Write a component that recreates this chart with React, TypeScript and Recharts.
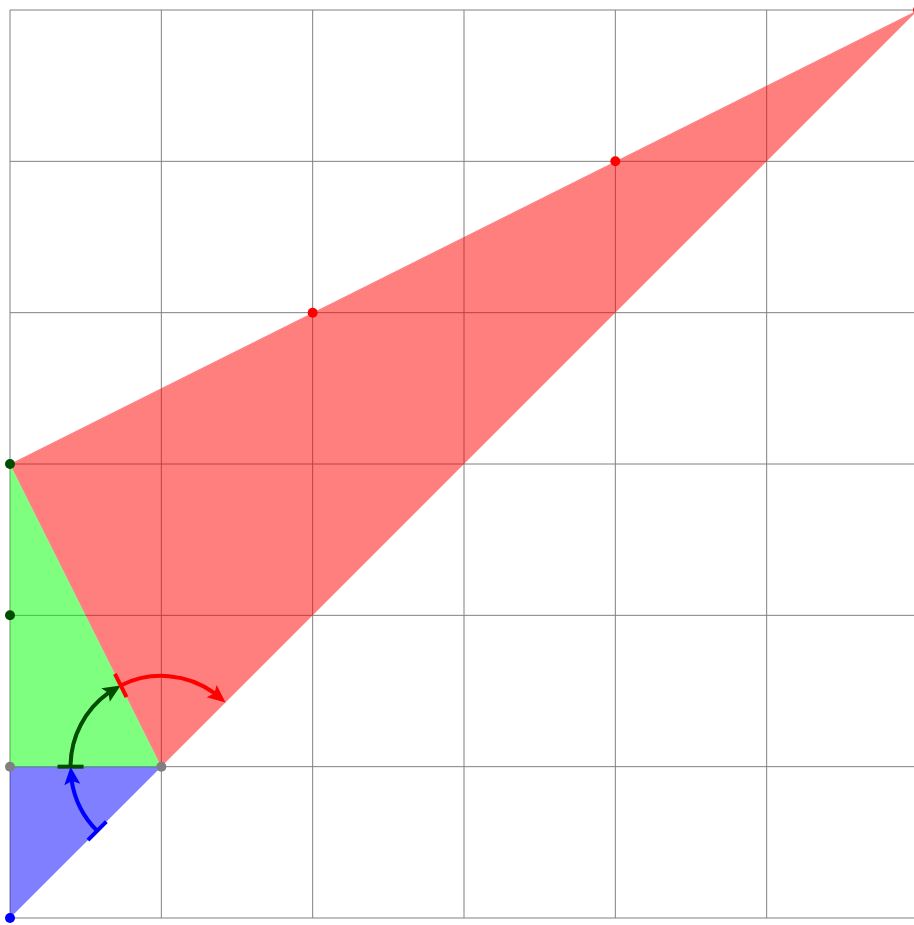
import { ComposedChart, XAxis, YAxis, CartesianGrid, Area, Scatter, ReferenceDot } from "recharts";

const TICKS = [0, 1, 2, 3, 4, 5, 6];

// triangles as range areas: [lower, upper] at each x
const BLUE_TRI = [
  { x: 0, range: [0, 1] },
  { x: 1, range: [1, 1] },
];
const GREEN_TRI = [
  { x: 0, range: [1, 3] },
  { x: 1, range: [1, 1] },
];
const RED_TRI = [
  { x: 0, range: [3, 3] },
  { x: 1, range: [1, 3.5] },
  { x: 6, range: [6, 6] },
];

const BLUE_PTS = [{ x: 0, y: 0 }];
const GRAY_PTS = [
  { x: 0, y: 1 },
  { x: 1, y: 1 },
];
const GREEN_PTS = [
  { x: 0, y: 2 },
  { x: 0, y: 3 },
];
const RED_PTS = [
  { x: 2, y: 4 },
  { x: 4, y: 5 },
  { x: 6, y: 6 },
];

// angle arcs at vertex (1,1): from direction -> to direction
const VERTEX = [{ x: 1, y: 1 }];
const ARCS = [
  { from: [0, 0], to: [0, 1], color: "#0000ff" },
  { from: [0, 1], to: [0, 3], color: "#004d00" },
  { from: [0, 3], to: [6, 6], color: "#ff0000" },
];
const ARC_RADIUS = 0.6;

const PLOT = 908;
const UNIT = PLOT / 6;

function angleTo(p: number[]) {
  return Math.atan2(p[1] - VERTEX[0].y, p[0] - VERTEX[0].x);
}

function makeArcShape(arc: (typeof ARCS)[number]) {
  return (props: any) => {
    const { cx, cy } = props;
    const r = ARC_RADIUS * UNIT;
    const a0 = angleTo(arc.from);
    const a1 = angleTo(arc.to);
    const head = 18;
    const pt = (a: number, rr = r) => [cx + rr * Math.cos(a), cy - rr * Math.sin(a)];
    const [sx, sy] = pt(a0);
    const [ex, ey] = pt(a1 + (head - 4) / r); // stop arc under the arrowhead
    const [tx, ty] = pt(a1);
    const [bx, by] = pt(a1 + head / r);
    const dx = tx - bx;
    const dy = ty - by;
    const len = Math.hypot(dx, dy);
    const nx = -dy / len;
    const ny = dx / len;
    const w = 8;
    const [t1x, t1y] = pt(a0, r - 13);
    const [t2x, t2y] = pt(a0, r + 13);
    return (
      <g>
        <line x1={t1x} y1={t1y} x2={t2x} y2={t2y} stroke={arc.color} strokeWidth={4} />
        <path
          d={`M${sx},${sy} A${r},${r} 0 0 1 ${ex},${ey}`}
          fill="none"
          stroke={arc.color}
          strokeWidth={4}
        />
        <polygon
          points={`${tx},${ty} ${bx + nx * w},${by + ny * w} ${bx + dx * 0.2},${by + dy * 0.2} ${bx - nx * w},${by - ny * w}`}
          fill={arc.color}
        />
      </g>
    );
  };
}

const dots = (pts: { x: number; y: number }[], color: string, key: string) =>
  pts.map((p, i) => (
    <ReferenceDot
      key={key + i}
      x={p.x}
      y={p.y}
      r={5}
      fill={color}
      stroke="none"
      ifOverflow="visible"
    />
  ));

export default function App() {
  return (
    <div
      style={{
        position: "fixed",
        left: 0,
        top: 0,
        width: 914,
        height: 925,
        overflow: "hidden",
        background: "#fff",
      }}
    >
      <ComposedChart
        width={920}
        height={925}
        margin={{ top: 10, right: 2, bottom: 7, left: 10 }}
      >
        <XAxis type="number" dataKey="x" domain={[0, 6]} ticks={TICKS} hide />
        <YAxis type="number" domain={[0, 6]} ticks={TICKS} hide />
        <CartesianGrid stroke="#808080" strokeWidth={1} />
        <Area
          data={BLUE_TRI}
          dataKey="range"
          type="linear"
          stroke="none"
          fill="#0000ff"
          fillOpacity={0.5}
          isAnimationActive={false}
          activeDot={false}
        />
        <Area
          data={GREEN_TRI}
          dataKey="range"
          type="linear"
          stroke="none"
          fill="#00ff00"
          fillOpacity={0.5}
          isAnimationActive={false}
          activeDot={false}
        />
        <Area
          data={RED_TRI}
          dataKey="range"
          type="linear"
          stroke="none"
          fill="#ff0000"
          fillOpacity={0.5}
          isAnimationActive={false}
          activeDot={false}
        />
        {ARCS.map((arc, i) => (
          <Scatter
            key={i}
            data={VERTEX}
            dataKey="y"
            shape={makeArcShape(arc)}
            isAnimationActive={false}
          />
        ))}
        {dots(GRAY_PTS, "#808080", "g")}
        {dots(BLUE_PTS, "#0000ff", "b")}
        {dots(GREEN_PTS, "#004d00", "dg")}
        {dots(RED_PTS, "#ff0000", "r")}
      </ComposedChart>
    </div>
  );
}
